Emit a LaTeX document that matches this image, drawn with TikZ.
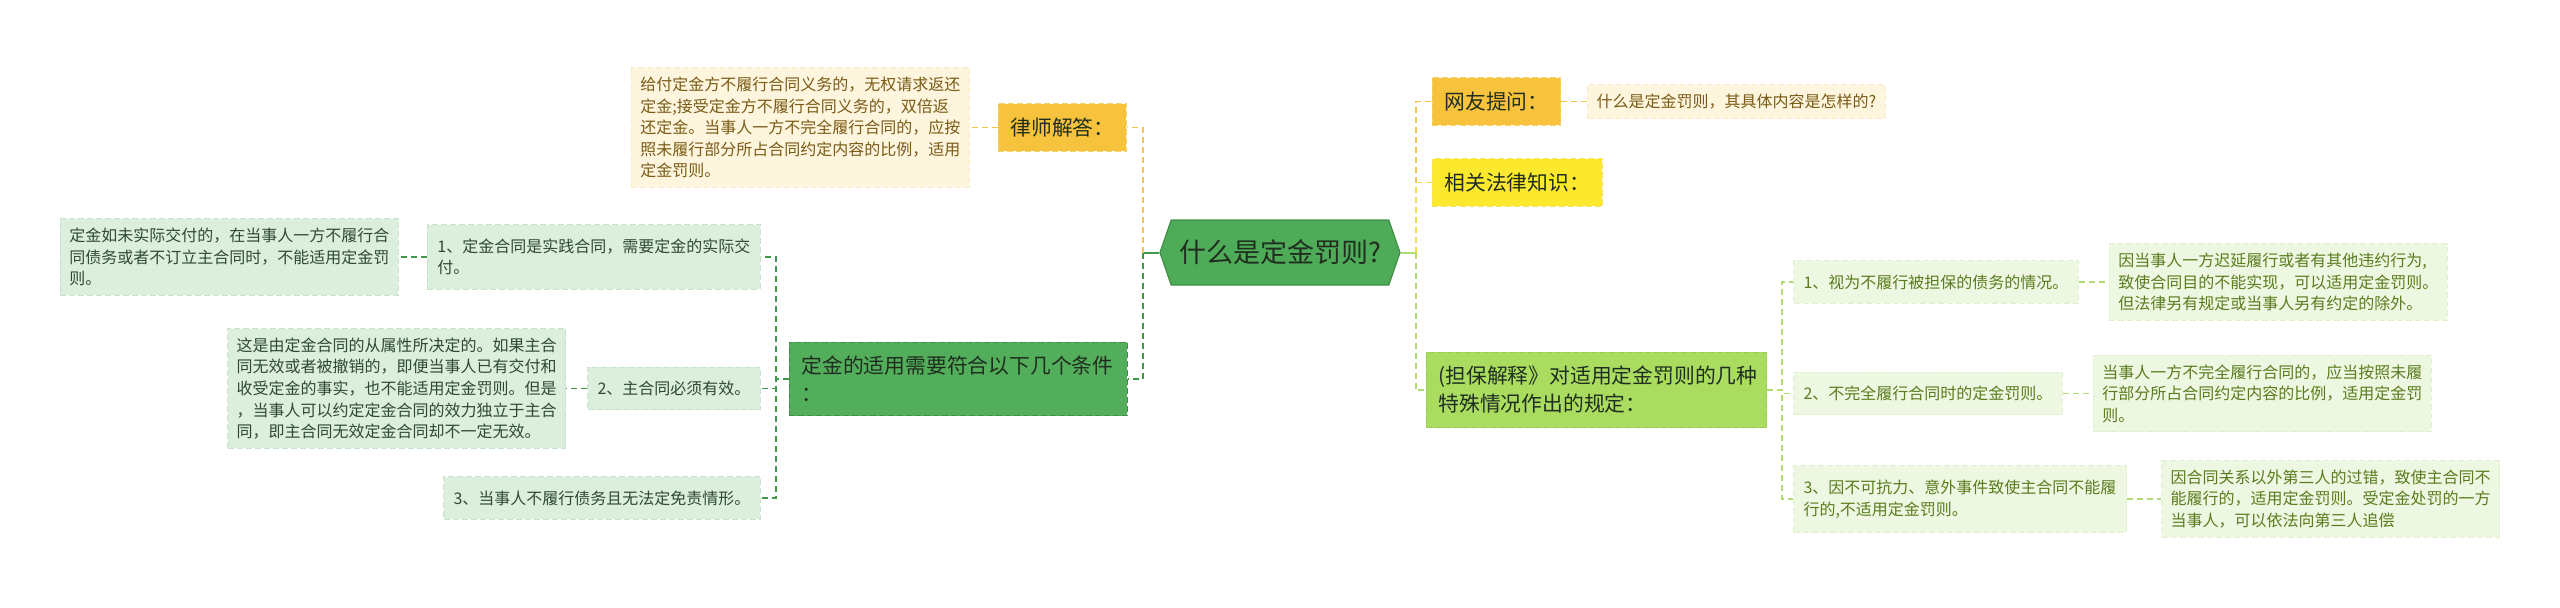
\documentclass[tikz,border=0pt]{standalone}
\usepackage{fontspec}
\setmainfont{Noto Sans CJK SC}
\usepackage{xcolor}
\usetikzlibrary{shapes.symbols}
\usetikzlibrary{positioning}

\definecolor{rootgreen}{HTML}{4EAB58}
\definecolor{rootedge}{HTML}{3F8F47}
\definecolor{amber}{HTML}{F8C33C}
\definecolor{amberedge}{HTML}{F3D36C}
\definecolor{lemon}{HTML}{FCE92D}
\definecolor{lemonedge}{HTML}{F6E46A}
\definecolor{condgreen}{HTML}{52AE5B}
\definecolor{condedge}{HTML}{3F9148}
\definecolor{lime}{HTML}{A9DC5F}
\definecolor{limeedge}{HTML}{98CC55}
\definecolor{cream}{HTML}{FDF5DD}
\definecolor{creamedge}{HTML}{F8EBC6}
\definecolor{creamtext}{HTML}{7A5B17}
\definecolor{mint}{HTML}{DCEEDD}
\definecolor{mintedge}{HTML}{C9E3CB}
\definecolor{minttext}{HTML}{2F4A31}
\definecolor{pale}{HTML}{EEF7E1}
\definecolor{paleedge}{HTML}{E0F0CC}
\definecolor{paletext}{HTML}{5A7C1E}
\definecolor{darktext}{HTML}{1F2E1F}
\definecolor{amberline}{HTML}{F1C54E}
\definecolor{lemonline}{HTML}{F3DA4E}
\definecolor{condline}{HTML}{3E9A4A}
\definecolor{ruleline}{HTML}{B2DA72}

\tikzset{
  root/.style={signal, signal to=west and east, signal pointer angle=142,
    fill=rootgreen, draw=rootedge, line width=0.6pt, minimum width=120pt,
    minimum height=32.5pt, font=\fontsize{13.5}{16}\selectfont, text=darktext},
  topic/.style={draw, dash pattern=on 3pt off 1.5pt, line width=0.5pt,
    inner xsep=6pt, inner ysep=7pt, align=left,
    font=\fontsize{10.4}{14}\selectfont, text=darktext},
  sub/.style={draw, dash pattern=on 3pt off 1.5pt, line width=0.5pt,
    inner xsep=5pt, inner ysep=7pt, align=left,
    font=\fontsize{8}{10.8}\selectfont},
  note/.style={draw, dash pattern=on 3pt off 1.5pt, line width=0.5pt,
    inner xsep=4.5pt, inner ysep=4.5pt, align=left,
    font=\fontsize{8}{10.8}\selectfont},
  ynote/.style={note, fill=cream, draw=creamedge, text=creamtext},
  gsub/.style={sub, fill=mint, draw=mintedge, text=minttext},
  gnote/.style={note, fill=mint, draw=mintedge, text=minttext},
  lsub/.style={sub, fill=pale, draw=paleedge, text=paletext},
  lnote/.style={note, fill=pale, draw=paleedge, text=paletext},
  link/.style={line width=0.9pt, dash pattern=on 3pt off 2pt},
}

\begin{document}
\begin{tikzpicture}
  \useasboundingbox (-640pt,126.25pt) rectangle (640pt,-177.25pt);

  % Define nodes
  \node[root] (root) at (0,0) {什么是定金罚则?};
  %--
  \node[topic, fill=amber, draw=amberedge, anchor=east] (lawyer) at (-76.5pt,62.5pt) {律师解答：};
  \node[ynote, left=14pt of lawyer] (answer) {给付定金方不履行合同义务的，无权请求返还\\定金;接受定金方不履行合同义务的，双倍返\\还定金。当事人一方不完全履行合同的，应按\\照未履行部分所占合同约定内容的比例，适用\\定金罚则。};
  \node[topic, fill=condgreen, draw=condedge, anchor=east, text width=157pt] (cond) at (-76pt,-63.25pt) {定金的适用需要符合以下几个条件\\：};
  \node[gsub, anchor=east, text width=156.5pt] (c1) at (-259.5pt,-2.25pt) {1、定金合同是实践合同，需要定金的实际交\\付。};
  \node[gsub, anchor=east] (c2) at (-259.5pt,-68pt) {2、主合同必须有效。};
  \node[gsub, anchor=east] (c3) at (-259.5pt,-122.75pt) {3、当事人不履行债务且无法定免责情形。};
  \node[gnote, left=14pt of c1] (c1note) {定金如未实际交付的，在当事人一方不履行合\\同债务或者不订立主合同时，不能适用定金罚\\则。};
  \node[gnote, left=10.5pt of c2] (c2note) {这是由定金合同的从属性所决定的。如果主合\\同无效或者被撤销的，即便当事人已有交付和\\收受定金的事实，也不能适用定金罚则。但是\\，当事人可以约定定金合同的效力独立于主合\\同，即主合同无效定金合同却不一定无效。};
  %--
  \node[topic, fill=amber, draw=amberedge, anchor=west] (ask) at (76pt,75.5pt) {网友提问：};
  \node[ynote, right=13pt of ask] (question) {什么是定金罚则，其具体内容是怎样的?};
  \node[topic, fill=lemon, draw=lemonedge, anchor=west] (law) at (76pt,35pt) {相关法律知识：};
  \node[topic, fill=lime, draw=limeedge, anchor=west, text width=158pt] (rule) at (73pt,-68.75pt) {(担保解释》对适用定金罚则的几种\\特殊情况作出的规定：};
  \node[lsub, anchor=west] (r1) at (256.5pt,-14.75pt) {1、视为不履行被担保的债务的情况。};
  \node[lsub, anchor=west] (r2) at (256.5pt,-70.5pt) {2、不完全履行合同时的定金罚则。};
  \node[lsub, anchor=west, text width=156.5pt] (r3) at (256.5pt,-123.25pt) {3、因不可抗力、意外事件致使主合同不能履\\行的,不适用定金罚则。};
  \node[lnote, right=15pt of r1] (r1note) {因当事人一方迟延履行或者有其他违约行为,\\致使合同目的不能实现，可以适用定金罚则。\\但法律另有规定或当事人另有约定的除外。};
  \node[lnote, right=15pt of r2] (r2note) {当事人一方不完全履行合同的，应当按照未履\\行部分所占合同约定内容的比例，适用定金罚\\则。};
  \node[lnote, right=17pt of r3] (r3note) {因合同关系以外第三人的过错，致使主合同不\\能履行的，适用定金罚则。受定金处罚的一方\\当事人，可以依法向第三人追偿};

  % Connect the nodes
  \coordinate (lt) at (-68.5pt,0);
  \coordinate (rt) at (68pt,0);
  \coordinate (ct) at (-252pt,-63.25pt);
  \coordinate (st) at (251pt,-68.75pt);
  \draw[line width=1pt, condline] (root.west) -- (lt);
  \draw[line width=1pt, ruleline] (root.east) -- (rt);
  \draw[link, amberline] (lt) |- (lawyer.east);
  \draw[link, condline] (lt) |- (cond.east);
  \draw[link, amberline] (rt) |- (ask.west);
  \draw[link, lemonline] (rt) |- (law.west);
  \draw[link, ruleline] (rt) |- (rule.west);
  \draw[link, amberline] (lawyer.west) -- (answer.east);
  \draw[link, amberline] (ask.east) -- (question.west);
  \foreach \c in {c1,c2,c3}
    \draw[link, condline] (cond.west) -- (ct) |- (\c.east);
  \foreach \r in {r1,r2,r3}
    \draw[link, ruleline] (rule.east) -- (st) |- (\r.west);
  \draw[link, condline] (c1.west) -- (c1note.east);
  \draw[link, condline] (c2.west) -- (c2note.east);
  \draw[link, ruleline] (r1.east) -- (r1note.west);
  \draw[link, ruleline] (r2.east) -- (r2note.west);
  \draw[link, ruleline] (r3.east) -- (r3note.west);
\end{tikzpicture}
\end{document}
